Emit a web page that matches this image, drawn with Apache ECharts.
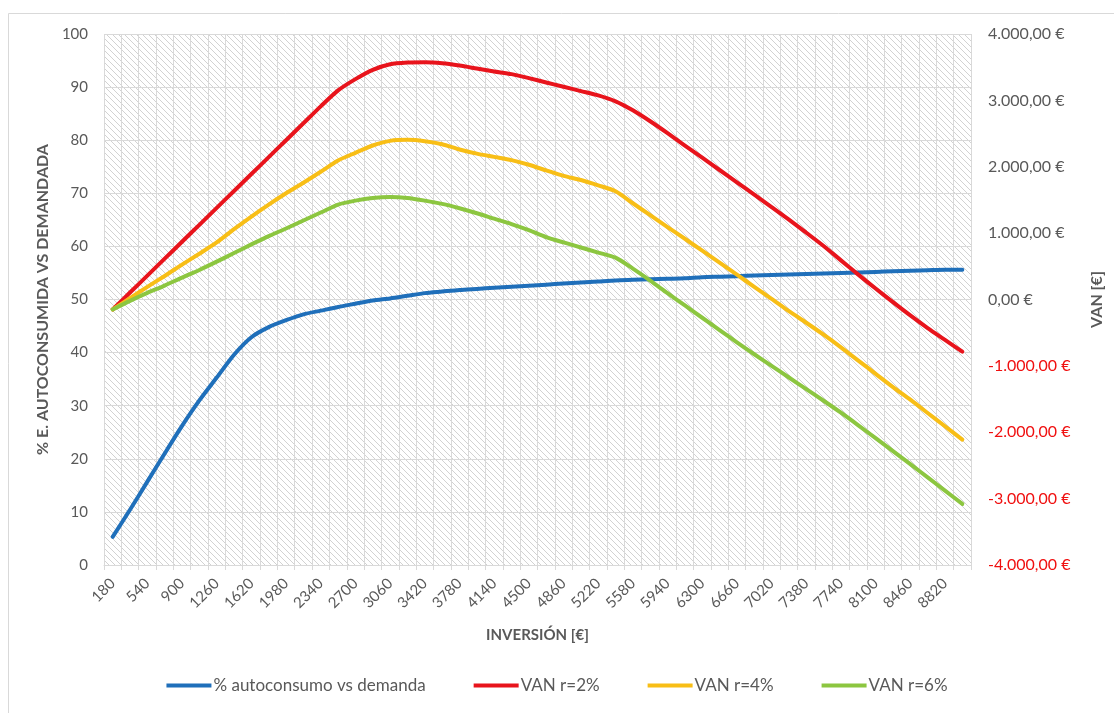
<!DOCTYPE html>
<html>
<head>
<meta charset="utf-8">
<script src="https://cdn.jsdelivr.net/npm/echarts@6/dist/echarts.min.js"></script>
<style>
  html, body { margin: 0; padding: 0; background: #ffffff; }
  #chart { width: 1114px; height: 713px; }
</style>
</head>
<body>
<div id="chart"></div>
<script>
// Investment steps (€)
const inversion = [180, 360, 540, 720, 900, 1080, 1260, 1440, 1620, 1800,
  1980, 2160, 2340, 2520, 2700, 2880, 3060, 3240, 3420, 3600,
  3780, 3960, 4140, 4320, 4500, 4680, 4860, 5040, 5220, 5400,
  5580, 5760, 5940, 6120, 6300, 6480, 6660, 6840, 7020, 7200,
  7380, 7560, 7740, 7920, 8100, 8280, 8460, 8640, 8820, 9000];

// % of self-consumed energy vs demand
const autoconsumo = [5.3, 10.4, 15.7, 21.0, 26.2, 31.0, 35.3, 39.6, 42.9, 44.8,
  46.1, 47.2, 47.9, 48.6, 49.2, 49.8, 50.2, 50.7, 51.2, 51.5,
  51.8, 52.0, 52.2, 52.4, 52.6, 52.8, 53.0, 53.2, 53.4, 53.6,
  53.7, 53.8, 53.9, 54.0, 54.2, 54.3, 54.4, 54.5, 54.6, 54.7,
  54.8, 54.9, 55.0, 55.1, 55.2, 55.3, 55.4, 55.5, 55.6, 55.6];

// Net present value (€) for discount rates 2 %, 4 % and 6 %
const vanR2 = [-150, 105, 360, 615, 870, 1125, 1380, 1635, 1890, 2145,
  2400, 2655, 2910, 3150, 3320, 3460, 3545, 3570, 3575, 3560,
  3525, 3480, 3435, 3395, 3335, 3270, 3205, 3140, 3075, 2986,
  2850, 2685, 2506, 2320, 2136, 1951, 1766, 1581, 1393, 1204,
  1006, 806, 590, 375, 165, -40, -240, -430, -608, -786];

const vanR4 = [-150, 20, 190, 355, 525, 690, 860, 1060, 1250, 1430,
  1600, 1760, 1925, 2095, 2210, 2320, 2390, 2405, 2385, 2340,
  2260, 2198, 2149, 2100, 2030, 1945, 1862, 1800, 1720, 1630,
  1450, 1270, 1090, 915, 735, 555, 375, 190, 10, -175,
  -350, -530, -720, -920, -1120, -1320, -1510, -1710, -1910, -2110];

const vanR6 = [-150, -20, 100, 210, 330, 445, 570, 700, 830, 955,
  1070, 1190, 1310, 1430, 1490, 1530, 1545, 1530, 1490, 1440,
  1375, 1300, 1218, 1137, 1045, 940, 860, 784, 707, 630,
  465, 285, 95, -90, -275, -460, -645, -825, -1000, -1175,
  -1350, -1525, -1705, -1895, -2090, -2285, -2480, -2680, -2880, -3080];

const seriesNames = ['% autoconsumo vs demanda', 'VAN r=2%', 'VAN r=4%', 'VAN r=6%'];
const seriesColors = ['#1F6FBA', '#E8141C', '#F8BE16', '#8CC640'];

// Diagonal hatch tile for the plot background
function hatchTile() {
  const s = 6;
  const c = document.createElement('canvas');
  c.width = s; c.height = s;
  const ctx = c.getContext('2d');
  ctx.fillStyle = '#ffffff';
  ctx.fillRect(0, 0, s, s);
  ctx.strokeStyle = '#d2d2d2';
  ctx.lineWidth = 1;
  ctx.beginPath();
  ctx.moveTo(-1, -1); ctx.lineTo(s + 1, s + 1);
  ctx.moveTo(-1, s - 1); ctx.lineTo(1, s + 1);
  ctx.moveTo(s - 1, -1); ctx.lineTo(s + 1, 1);
  ctx.stroke();
  return c;
}

// Spanish currency format: 4.000,00 €
function euro(v) {
  const abs = Math.abs(v);
  const int = Math.floor(abs).toString().replace(/\B(?=(\d{3})+(?!\d))/g, '.');
  return (v < 0 ? '-' : '') + int + ',00 €';
}

const FONT = 'Lato, "Open Sans", sans-serif';
const GREY = '#595959';

const chart = echarts.init(document.getElementById('chart'), null, { renderer: 'canvas' });

chart.setOption({
  animation: false,
  backgroundColor: '#ffffff',
  textStyle: { fontFamily: FONT },
  graphic: [{
    type: 'rect',
    shape: { x: 8.5, y: 13.5, width: 1110, height: 710 },
    style: { fill: 'none', stroke: '#d9d9d9', lineWidth: 1 },
    silent: true,
    z: -10
  }],
  grid: {
    left: 104, right: 143, top: 34, bottom: 148,
    show: true,
    borderWidth: 0,
    backgroundColor: { image: hatchTile(), repeat: 'repeat' }
  },
  legend: {
    bottom: 14,
    left: 'center',
    data: seriesNames,
    icon: 'rect',
    itemWidth: 45,
    itemHeight: 4,
    itemGap: 48,
    textStyle: { color: GREY, fontSize: 17, fontFamily: FONT, padding: [0, 0, 0, -3] }
  },
  xAxis: {
    type: 'category',
    data: inversion,
    boundaryGap: true,
    name: 'INVERSIÓN [€]',
    nameLocation: 'middle',
    nameGap: 63,
    nameTextStyle: { color: GREY, fontWeight: 'bold', fontSize: 15, fontFamily: FONT },
    axisLine: { show: true, lineStyle: { color: '#d9d9d9', width: 1 } },
    axisTick: { show: true, interval: 0, length: 5, lineStyle: { color: '#d9d9d9' } },
    axisLabel: { interval: 1, rotate: 45, color: GREY, fontSize: 15, margin: 16, fontFamily: FONT },
    splitLine: { show: true, interval: 0, lineStyle: { color: '#d9d9d9', width: 1 } }
  },
  yAxis: [{
    type: 'value',
    min: 0, max: 100, interval: 10,
    name: '% E. AUTOCONSUMIDA VS DEMANDADA',
    nameLocation: 'middle',
    nameRotate: 90,
    nameGap: 53,
    nameTextStyle: { color: GREY, fontWeight: 'bold', fontSize: 16, fontFamily: FONT },
    axisLine: { show: false },
    axisTick: { show: false },
    axisLabel: { color: GREY, fontSize: 15, margin: 16, fontFamily: FONT },
    splitLine: { show: true, lineStyle: { color: '#d9d9d9', width: 1 } }
  }, {
    type: 'value',
    position: 'right',
    min: -4000, max: 4000, interval: 1000,
    name: 'VAN [€]',
    nameLocation: 'middle',
    nameRotate: 90,
    nameGap: 118,
    nameTextStyle: { color: GREY, fontWeight: 'bold', fontSize: 16, fontFamily: FONT },
    axisLine: { show: false },
    axisTick: { show: false },
    axisLabel: {
      formatter: euro,
      color: (v) => (Number(v) < 0 ? '#F01010' : GREY),
      fontSize: 16,
      margin: 17,
      fontFamily: FONT
    },
    splitLine: { show: false }
  }],
  series: [
    { name: seriesNames[0], type: 'line', yAxisIndex: 0, data: autoconsumo },
    { name: seriesNames[1], type: 'line', yAxisIndex: 1, data: vanR2 },
    { name: seriesNames[2], type: 'line', yAxisIndex: 1, data: vanR4 },
    { name: seriesNames[3], type: 'line', yAxisIndex: 1, data: vanR6 }
  ].map((s, k) => Object.assign(s, {
    smooth: 0.25,
    showSymbol: false,
    color: seriesColors[k],
    lineStyle: { width: 4, color: seriesColors[k], cap: 'round', join: 'round' }
  }))
});
</script>
</body>
</html>
